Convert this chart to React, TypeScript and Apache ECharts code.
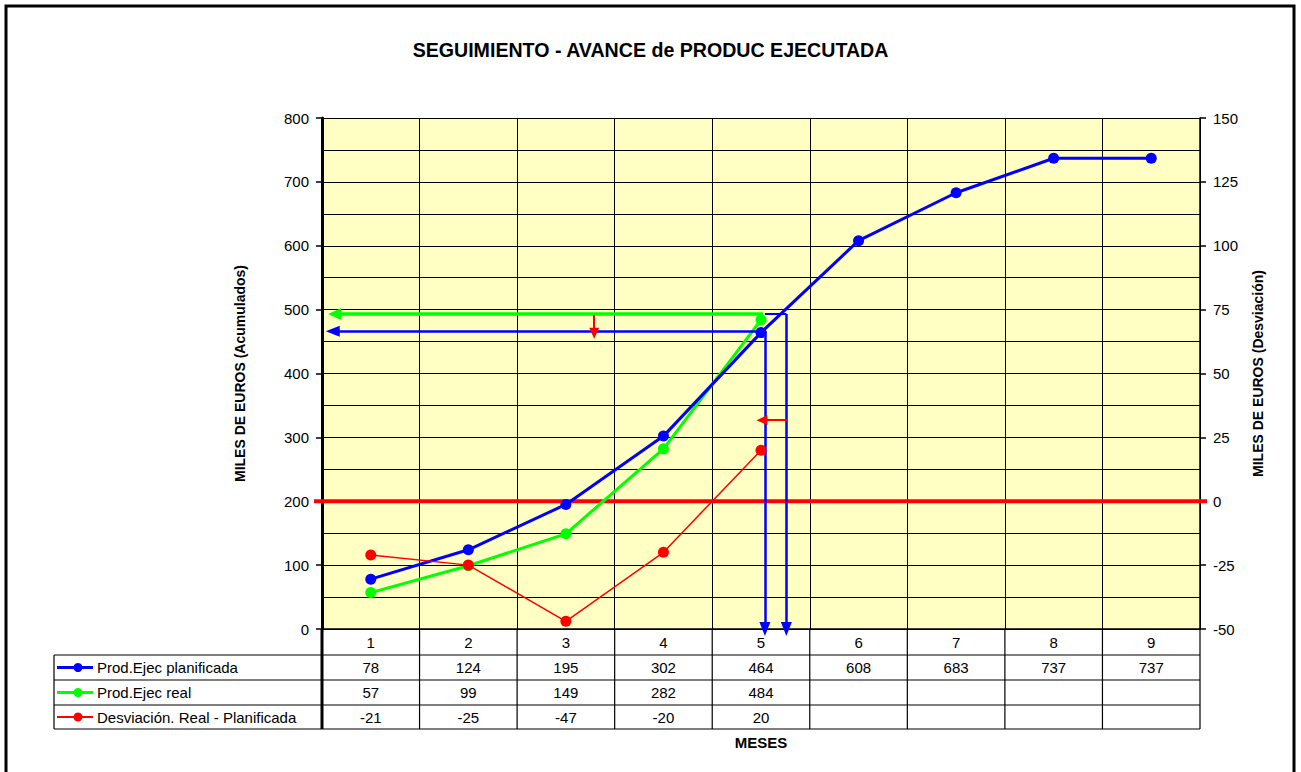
import React, { useEffect, useRef } from "react";
import * as echarts from "echarts";

// Months (x categories) and monthly cumulative production, in thousands of euros
const months = ["1", "2", "3", "4", "5", "6", "7", "8", "9"];
const planned = [78, 124, 195, 302, 464, 608, 683, 737, 737];
const actual = [57, 99, 149, 282, 484];
const deviation = [-21, -25, -47, -20, 20];

const seriesNames = ["Prod.Ejec planificada", "Prod.Ejec real", "Desviación. Real - Planificada"];
const seriesColors = ["#0000FF", "#00FF00", "#FF0000"];
const tableValues = [planned, actual, deviation];

// Guide arrows, in axis units: x on a continuous month scale, y on the left (cumulative) axis
// [x1, y1, x2, y2]
const greenGuides = [[5.02, 493, 0.63, 493]];
const blueGuides = [
  [5.04, 466, 0.61, 466],
  [5.04, 466, 5.04, 0],
  [5.26, 493, 5.26, 0],
];
const blueConnector = [[5.04, 493, 5.26, 493]];
const redGuides = [
  [3.29, 491, 3.29, 463],
  [5.27, 327, 5.01, 327],
];

const FONT = "'Liberation Sans', Arial, sans-serif";

function arrowSeries(color: string, width: number, lines: number[][], size: number[], arrow = true) {
  return {
    type: "line",
    xAxisIndex: 1,
    yAxisIndex: 0,
    data: [],
    silent: true,
    markLine: {
      silent: true,
      animation: false,
      symbol: arrow ? ["none", "triangle"] : ["none", "none"],
      symbolSize: size,
      label: { show: false },
      emphasis: { disabled: true },
      lineStyle: { color, width, type: "solid" },
      data: lines.map(([x1, y1, x2, y2]) => [{ coord: [x1, y1] }, { coord: [x2, y2] }]),
    },
  };
}

export default function App() {
  const ref = useRef<HTMLDivElement>(null);

  useEffect(() => {
    document.body.style.margin = "0";
    if (!ref.current) return;
    const chart = echarts.init(ref.current, null, { renderer: "svg" });

    const option: any = {
      animation: false,
      backgroundColor: "#FFFFFF",
      textStyle: { fontFamily: FONT },
      title: {
        text: "SEGUIMIENTO - AVANCE de PRODUC EJECUTADA",
        left: "center",
        top: 35,
        textStyle: { fontFamily: FONT, fontSize: 19.6, fontWeight: "bold", color: "#000" },
      },
      grid: {
        left: 322,
        right: 101,
        top: 118,
        bottom: 143,
        show: true,
        backgroundColor: "#FFFFC4",
        borderWidth: 0,
      },
      xAxis: [
        {
          type: "category",
          data: months,
          boundaryGap: true,
          position: "bottom",
          name: "MESES",
          nameLocation: "middle",
          nameGap: 106,
          nameTextStyle: { fontFamily: FONT, fontSize: 15, fontWeight: "bold", color: "#000" },
          axisLine: { show: true, lineStyle: { color: "#000", width: 1.5 } },
          axisTick: { show: false },
          axisLabel: { fontFamily: FONT, fontSize: 15, color: "#000", margin: 6 },
          splitLine: { show: true, interval: 0, lineStyle: { color: "#000", width: 1 } },
        },
        { type: "value", min: 0.5, max: 9.5, show: false },
      ],
      yAxis: [
        {
          type: "value",
          position: "left",
          min: 0,
          max: 800,
          interval: 100,
          name: "MILES DE EUROS (Acumulados)",
          nameLocation: "middle",
          nameRotate: 90,
          nameGap: 75,
          nameTextStyle: { fontFamily: FONT, fontSize: 14, fontWeight: "bold", color: "#000" },
          axisLine: { show: true, lineStyle: { color: "#000", width: 3 } },
          axisTick: { show: true, length: 6, lineStyle: { color: "#000", width: 1.5 } },
          axisLabel: { fontFamily: FONT, fontSize: 15, color: "#000", margin: 13 },
          splitLine: { show: true, lineStyle: { color: "#000", width: 1 } },
          minorTick: { show: false, splitNumber: 2 },
          minorSplitLine: { show: true, lineStyle: { color: "#000", width: 1 } },
        },
        {
          type: "value",
          position: "right",
          min: -50,
          max: 150,
          interval: 25,
          name: "MILES DE EUROS (Desviación)",
          nameLocation: "middle",
          nameRotate: 90,
          nameGap: 51,
          nameTextStyle: { fontFamily: FONT, fontSize: 14, fontWeight: "bold", color: "#000" },
          axisLine: { show: true, lineStyle: { color: "#000", width: 1.5 } },
          axisTick: { show: true, length: 6, lineStyle: { color: "#000", width: 1.5 } },
          axisLabel: { fontFamily: FONT, fontSize: 15, color: "#000", margin: 13 },
          splitLine: { show: false },
        },
      ],
      series: [
        {
          name: seriesNames[0],
          type: "line",
          xAxisIndex: 0,
          yAxisIndex: 0,
          data: planned,
          symbol: "circle",
          symbolSize: 11,
          lineStyle: { color: seriesColors[0], width: 3 },
          itemStyle: { color: seriesColors[0] },
          z: 4,
        },
        {
          name: seriesNames[1],
          type: "line",
          xAxisIndex: 0,
          yAxisIndex: 0,
          data: actual,
          symbol: "circle",
          symbolSize: 11,
          lineStyle: { color: seriesColors[1], width: 3 },
          itemStyle: { color: seriesColors[1] },
          z: 3,
        },
        {
          name: seriesNames[2],
          type: "line",
          xAxisIndex: 0,
          yAxisIndex: 1,
          data: deviation,
          symbol: "circle",
          symbolSize: 11,
          lineStyle: { color: seriesColors[2], width: 1.5 },
          itemStyle: { color: seriesColors[2] },
          z: 5,
        },
        arrowSeries(seriesColors[1], 3.5, greenGuides, [12, 13]),
        arrowSeries(seriesColors[0], 2, blueConnector, [1, 1], false),
        arrowSeries(seriesColors[0], 2.5, blueGuides, [11, 14]),
        arrowSeries(seriesColors[2], 2, redGuides, [10, 11]),
      ],
    };

    chart.setOption(option);

    // Data table under the plot, laid out on the category axis positions
    const xs = months.map((_, i) => chart.convertToPixel({ xAxisIndex: 0 }, i) as number);
    const step = xs[1] - xs[0];
    const gridL = xs[0] - step / 2;
    const gridR = xs[xs.length - 1] + step / 2;
    const y0 = chart.convertToPixel({ yAxisIndex: 0 }, 0) as number;
    const zeroY = chart.convertToPixel({ yAxisIndex: 1 }, 0) as number;
    const rowLines = [y0 + 26, y0 + 51, y0 + 76, y0 + 100];
    const legendLeft = gridL - 268;

    const g: any[] = [];
    const line = (x1: number, y1: number, x2: number, y2: number, w = 1.2, color = "#000", z = 10) =>
      g.push({
        type: "line",
        silent: true,
        z,
        shape: { x1, y1, x2, y2 },
        style: { stroke: color, lineWidth: w },
      });

    // zero line of the deviation axis
    line(gridL - 8, zeroY, gridR + 7, zeroY, 4, seriesColors[2], 1);

    rowLines.forEach((y) => line(legendLeft, y, gridR, y));
    line(legendLeft, rowLines[0], legendLeft, rowLines[3]);
    line(gridL, y0, gridL, rowLines[3], 3);
    xs.forEach((x) => line(x + step / 2, y0, x + step / 2, rowLines[3]));

    tableValues.forEach((vals, r) => {
      const cy = (rowLines[r] + rowLines[r + 1]) / 2;
      const color = seriesColors[r];
      line(legendLeft + 3, cy, legendLeft + 39, cy, r === 2 ? 2 : 3, color, 11);
      g.push({
        type: "circle",
        silent: true,
        z: 12,
        shape: { cx: legendLeft + 24, cy, r: 4.5 },
        style: { fill: color },
      });
      g.push({
        type: "text",
        silent: true,
        z: 12,
        x: legendLeft + 43,
        y: cy,
        style: {
          text: seriesNames[r],
          font: `15px ${FONT}`,
          fill: "#000",
          textAlign: "left",
          textVerticalAlign: "middle",
        },
      });
      vals.forEach((v, i) => {
        g.push({
          type: "text",
          silent: true,
          z: 12,
          x: xs[i],
          y: cy,
          style: {
            text: String(v),
            font: `15px ${FONT}`,
            fill: "#000",
            textAlign: "center",
            textVerticalAlign: "middle",
          },
        });
      });
    });

    // outer frame of the sheet
    g.push({
      type: "rect",
      silent: true,
      z: 20,
      shape: { x: 6, y: 6, width: 1288, height: 790 },
      style: { fill: "none", stroke: "#000", lineWidth: 3 },
    });

    chart.setOption({ graphic: g });

    return () => chart.dispose();
  }, []);

  return <div ref={ref} style={{ width: 1301, height: 772 }} />;
}
